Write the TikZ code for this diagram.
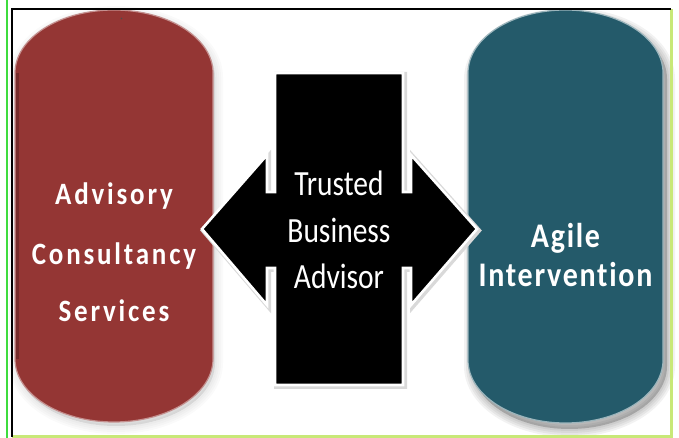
\documentclass[tikz,border=0pt]{standalone}
\usepackage{fontspec}
\setmainfont{Carlito}
\newfontfamily\leftfont{Carlito}[LetterSpace=10.4, Ligatures=NoCommon]
\newfontfamily\rightfont{Carlito}[LetterSpace=5.8, Ligatures=NoCommon]
\definecolor{pillred}{HTML}{943634}
\definecolor{pillteal}{HTML}{245A6A}
\definecolor{framegreen}{HTML}{3EDC3E}
\definecolor{frameyellow}{HTML}{C8E878}
\newcommand\tall[1]{\scalebox{1}[1.2]{#1}}
\newcommand\talls[1]{\scalebox{1}[1.15]{#1}}
\tikzset{
  lbl/.style={anchor=base, inner sep=0pt, text=white},
  leftlbl/.style={font=\leftfont\bfseries\fontsize{27}{30}\selectfont},
  rightlbl/.style={font=\rightfont\bfseries\fontsize{30}{32}\selectfont},
  centerlbl/.style={font=\fontsize{29.5}{32}\selectfont},
}
\begin{document}
\begin{tikzpicture}[x=1pt,y=1pt]
\useasboundingbox (0,0) rectangle (679,438);
\fill[white] (0,0) rectangle (679,438);

% shadows of the pills
\foreach \w in {16,12,8,4}{
  \path[draw=black, fill=black, draw opacity=.05, fill opacity=.05, line width=\w, shift={(4,-6)}]
    (468,365) arc[start angle=180,end angle=0,x radius=97.5,y radius=63] -- (663,78)
    arc[start angle=0,end angle=-180,x radius=97.5,y radius=63] -- cycle;
  \path[draw=black, fill=black, draw opacity=.02, fill opacity=.02, line width=\w, shift={(2,-4)}]
    (15,365) arc[start angle=180,end angle=0,x radius=99,y radius=63] -- (213,79)
    arc[start angle=0,end angle=-180,x radius=99,y radius=63] -- cycle;
}

% red pill
\path[fill=pillred, draw=pillred!55!white, line width=1.2] (15,365) coordinate (rp)
  arc[start angle=180,end angle=0,x radius=99,y radius=63] -- (213,79)
  arc[start angle=0,end angle=-180,x radius=99,y radius=63] -- cycle;
\path[draw=pillred!80!black, line width=2.5]
  (17.5,365) -- (17.5,79);
% teal pill
\path[fill=pillteal, draw=pillteal!45!white, line width=1.2] (468,365)
  arc[start angle=180,end angle=0,x radius=97.5,y radius=63] -- (663,78)
  arc[start angle=0,end angle=-180,x radius=97.5,y radius=63] -- cycle;

% tiny mark on the red pill
\fill[black!70] (121.5,419.5) circle[radius=0.8];

% central double arrow with box
\path[draw=black!15, line width=5, shift={(1.5,-1.5)}, line join=miter]
  (275,365) -- (275,246) -- (267,246) -- (267,283) -- (202,209) -- (267,133) -- (267,170)
  -- (275,170) -- (275,53) -- (403,53) -- (403,170) -- (411,170) -- (411,133) -- (477,209)
  -- (411,283) -- (411,246) -- (403,246) -- (403,365) -- cycle;
\path[fill=black, draw=white, line width=2.6, line join=miter]
  (275,365) coordinate (bx) -- (275,246) -- (267,246) -- (267,283) -- (202,209) -- (267,133) -- (267,170)
  -- (275,170) -- (275,53) -- (403,53) -- (403,170) -- (411,170) -- (411,133) -- (477,209)
  -- (411,283) -- (411,246) -- (403,246) -- (403,365) -- cycle;

% center text
\node[lbl, centerlbl] (t1) at (339,242) {\tall{Trusted}};
\node[lbl, centerlbl] (t2) at (339,195) {\tall{Business}};
\node[lbl, centerlbl] (t3) at (339,149) {\tall{Advisor}};

% left text
\node[lbl, leftlbl] (l1) at (114,233) {\talls{Advisory}};
\node[lbl, leftlbl] (l2) at (114,173) {\talls{Consultancy}};
\node[lbl, leftlbl] (l3) at (114,116) {\talls{Services}};

% right text
\node[lbl, rightlbl] (r1) at (565.5,190) {\talls{Agile}};
\node[lbl, rightlbl] (r2) at (565.5,151) {\talls{Intervention}};

% frame
\draw[framegreen, line width=2] (6.5,0) -- (6.5,438);
\draw[frameyellow, line width=2.5] (671.5,428.5) -- (671.5,0);
\draw[frameyellow, line width=2.5] (12,1.5) -- (673,1.5);
\draw[black, line width=2] (11.5,1) -- (11.5,428.5) -- (670.5,428.5);
\end{tikzpicture}
\end{document}
